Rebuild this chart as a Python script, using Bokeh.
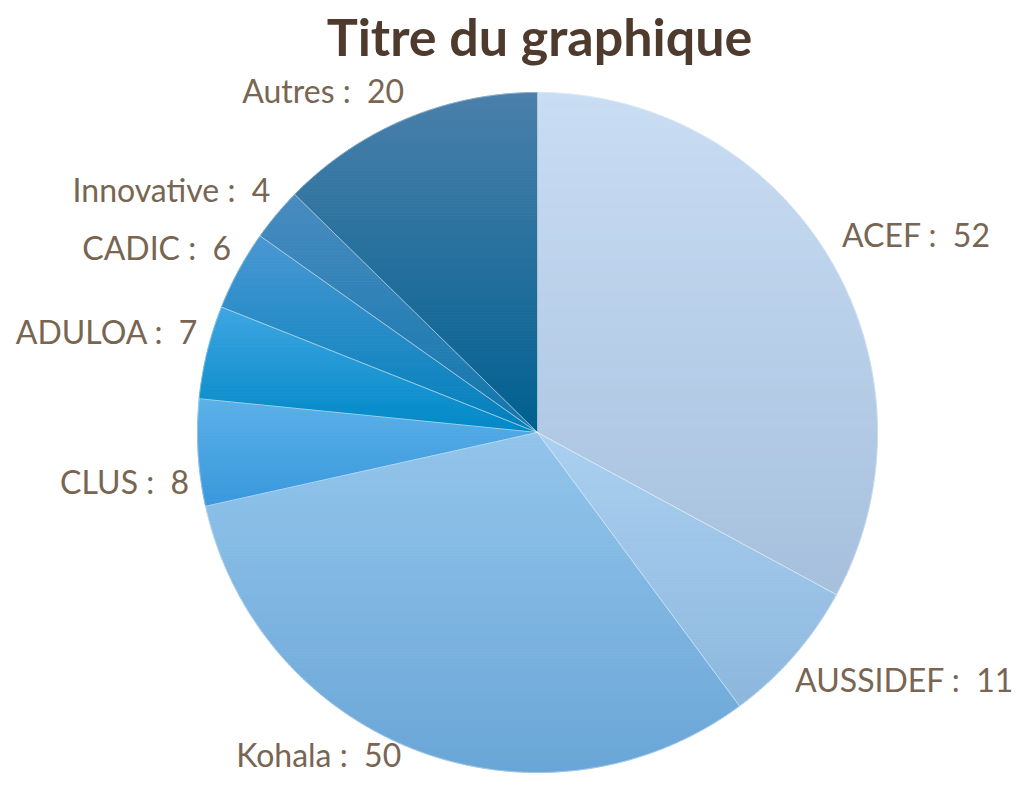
import numpy as np
from bokeh.plotting import figure
from bokeh.models import Range1d, ColumnDataSource
from bokeh.core.properties import value
from bokeh.embed import file_html
from bokeh.resources import INLINE

# ---- data ----
categories = ["ACEF", "AUSSIDEF", "Kohala", "CLUS", "ADULOA", "CADIC", "Innovative", "Autres"]
values = [52, 11, 50, 8, 7, 6, 4, 20]
top_colors = ["#c9ddf3", "#abd0f0", "#94c5eb", "#5cb0e8", "#3ea6e2", "#4a98d2", "#4a8cc0", "#4b80ab"]
bottom_colors = ["#a6c0dd", "#8cb7dd", "#69a6d7", "#3898dc", "#0088c6", "#007fbb", "#0f76ac", "#00608f"]
title_text = "Titre du graphique"

# ---- layout ----
W, H = 1015, 774
cx, cy, R = 537.0, 342.0, 340.0
FONT = "Lato"
LBL_SIZE = 32
TTL_SIZE = 52

p = figure(width=W, height=H, output_backend="svg", toolbar_location=None,
           x_range=Range1d(0, W), y_range=Range1d(0, H), min_border=0)
p.axis.visible = False
p.grid.visible = False
p.outline_line_color = None
p.background_fill_color = "white"
p.border_fill_color = "white"


def hex2rgb(h):
    h = h.lstrip("#")
    return np.array([int(h[i:i + 2], 16) for i in (0, 2, 4)], dtype=float)


def rgb2hex(c):
    c = np.clip(np.round(c), 0, 255).astype(int)
    return "#%02x%02x%02x" % tuple(c)


def clip_half(poly, yv, keep_above):
    out = []
    n = len(poly)
    for i in range(n):
        a = poly[i]
        b = poly[(i + 1) % n]
        ina = a[1] >= yv if keep_above else a[1] <= yv
        inb = b[1] >= yv if keep_above else b[1] <= yv
        if ina:
            out.append(a)
        if ina != inb:
            t = (yv - a[1]) / (b[1] - a[1])
            out.append((a[0] + t * (b[0] - a[0]), yv))
    return out


total = float(sum(values))
cum = np.concatenate([[0.0], np.cumsum(values)]) / total * 2 * np.pi  # clockwise from north

band_xs, band_ys, band_cols = [], [], []
out_xs, out_ys = [], []
mids = []
for i, v in enumerate(values):
    a0, a1 = cum[i], cum[i + 1]
    n = max(8, int(np.degrees(a1 - a0) * 2))
    th = np.linspace(a0, a1, n)
    ax = cx + R * np.sin(th)
    ay = cy + R * np.cos(th)
    poly = [(cx, cy)] + list(zip(ax, ay))
    out_xs.append([q[0] for q in poly])
    out_ys.append([q[1] for q in poly])
    ys_all = [q[1] for q in poly]
    ymin, ymax = min(ys_all), max(ys_all)
    nb = max(6, int((ymax - ymin) / 3))
    edges = np.linspace(ymin, ymax, nb + 1)
    ct, cb = hex2rgb(top_colors[i]), hex2rgb(bottom_colors[i])
    for k in range(nb):
        lo, hi = edges[k], edges[k + 1]
        seg = clip_half(clip_half(poly, lo, True), hi, False)
        if len(seg) < 3:
            continue
        t = (ymax - 0.5 * (lo + hi)) / (ymax - ymin)
        band_xs.append([q[0] for q in seg])
        band_ys.append([q[1] for q in seg])
        band_cols.append(rgb2hex(ct * (1 - t) + cb * t))
    mids.append(0.5 * (a0 + a1))

src = ColumnDataSource(dict(xs=band_xs, ys=band_ys, color=band_cols))
p.patches("xs", "ys", source=src, fill_color="color", line_color="color", line_width=1.0)
p.patches(out_xs, out_ys, fill_alpha=0, line_color="white", line_alpha=0.45, line_width=0.8)

# ---- data labels (outside end) ----
shift = 0.33 * LBL_SIZE  # svg baseline correction
LR = R + 12
lx, ly, lt, la = [], [], [], []
for i, m in enumerate(mids):
    px = cx + LR * np.sin(m)
    py = cy + LR * np.cos(m)
    if np.sin(m) >= 0:
        align = "left"
        x = px + 2
    else:
        align = "right"
        x = px + 3
    if np.cos(m) >= 0:
        yb = py + 7
    else:
        yb = py - 27
    if categories[i] == "CLUS":
        yb -= 12
    if categories[i] == "AUSSIDEF":
        x -= 10  # keep inside the page width
    if yb < 9:  # keep inside the page height, step left off the pie edge
        yb = 9
        x -= 16
    lx.append(x)
    ly.append(yb + shift)
    lt.append(f"{categories[i]} : \u00a0{values[i]}")
    la.append(align)

lsrc = ColumnDataSource(dict(x=lx, y=ly, text=lt, align=la))
p.text("x", "y", text="text", source=lsrc, text_align="align", text_baseline="alphabetic",
       text_font=value(FONT), text_font_size=f"{LBL_SIZE}px", text_color="#786552")

# ---- title ----
p.text([cx + 2], [H - 53 + 0.33 * TTL_SIZE], text=[title_text], text_align="center",
       text_baseline="alphabetic", text_font=value(FONT), text_font_size=f"{TTL_SIZE}px",
       text_font_style="bold", text_color="#4e3b2e")

open("out.html", "w").write(file_html(p, INLINE))
